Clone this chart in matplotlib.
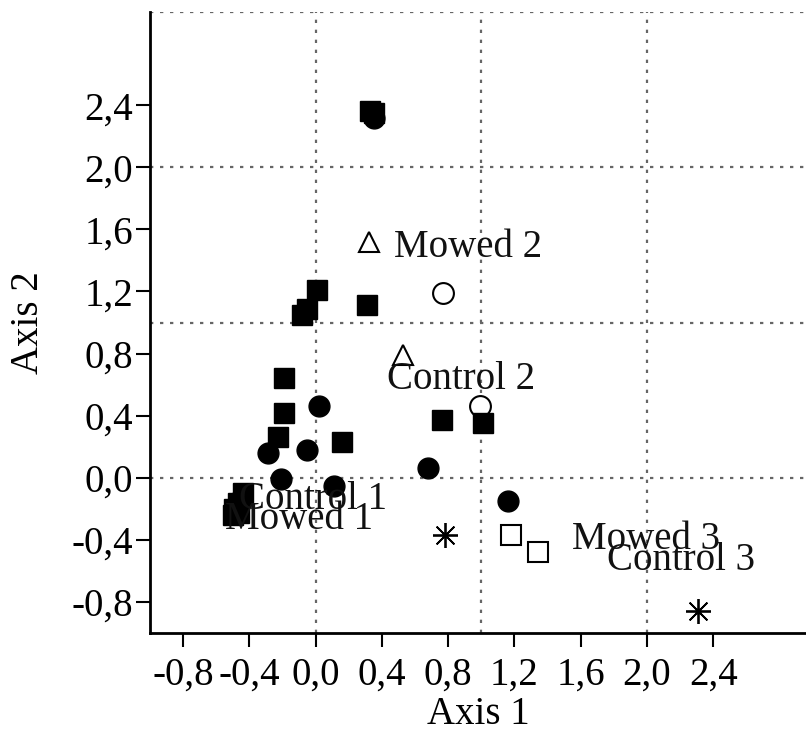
import matplotlib.pyplot as plt

plt.rcParams['font.family'] = ['Liberation Serif', 'DejaVu Serif']

# filled squares
sq_x = [0.35, 0.33, 0.01, -0.05, -0.08, 0.31, -0.19, -0.19, -0.23, 0.16, 0.76, 1.01,
        -0.44, -0.47, -0.49, -0.46, -0.50]
sq_y = [2.35, 2.36, 1.21, 1.09, 1.05, 1.11, 0.64, 0.42, 0.26, 0.23, 0.37, 0.35,
        -0.10, -0.16, -0.20, -0.23, -0.24]

# filled circles
ci_x = [0.35, 0.02, -0.05, -0.29, -0.21, 0.11, 0.68, 1.16, -0.45]
ci_y = [2.32, 0.46, 0.18, 0.16, -0.01, -0.05, 0.06, -0.15, -0.14]

# open markers
oc_x = [0.77, 0.99]
oc_y = [1.19, 0.46]
tri_x = [0.32, 0.53]
tri_y = [1.52, 0.79]
osq_x = [1.18, 1.34]
osq_y = [-0.37, -0.48]
ast_x = [0.78, 2.31]
ast_y = [-0.37, -0.86]

# group labels
lab_text = ["Mowed 2", "Control 2", "Control 1", "Mowed 1", "Mowed 3", "Control 3"]
lab_x = [0.47, 0.43, -0.46, -0.55, 1.55, 1.76]
lab_y = [1.48, 0.63, -0.14, -0.27, -0.40, -0.53]

ticks = [-0.8, -0.4, 0.0, 0.4, 0.8, 1.2, 1.6, 2.0, 2.4]
tick_labels = ["-0,8", "-0,4", "0,0", "0,4", "0,8", "1,2", "1,6", "2,0", "2,4"]

fig = plt.figure(figsize=(8.06, 7.35), dpi=100)
ax = fig.add_axes([150 / 806, 102 / 735, 656 / 806, 621 / 735])

# dotted grid at integer positions
for g in [0, 1, 2, 3]:
    ax.axvline(g, color='#666666', lw=1.6, ls=(0, (1.5, 3)), zorder=0)
    ax.axhline(g, color='#666666', lw=1.6, ls=(0, (1.5, 3)), zorder=0)

ax.plot(ci_x, ci_y, 'o', ms=15, color='black', ls='none', zorder=3)
ax.plot(sq_x, sq_y, 's', ms=15, color='black', ls='none', zorder=4)
ax.plot(oc_x, oc_y, 'o', ms=15, mfc='white', mec='black', mew=1.5, ls='none', zorder=2)
ax.plot(tri_x, tri_y, '^', ms=14, mfc='none', mec='black', mew=1.5, ls='none', zorder=2)
ax.plot(osq_x, osq_y, 's', ms=15, mfc='white', mec='black', mew=1.5, ls='none', zorder=2)
ax.plot(ast_x, ast_y, marker=(8, 2, 0), ms=18, color='black', mew=1.3, ls='none', zorder=2)

for t, x, y in zip(lab_text, lab_x, lab_y):
    ax.text(x, y, t, fontsize=28, ha='left', va='center', color='#111111', zorder=5)

ax.set_xlim(-1.0, 2.96)
ax.set_ylim(-1.0, 3.0)
ax.set_xticks(ticks)
ax.set_xticklabels(tick_labels)
ax.set_yticks(ticks)
ax.set_yticklabels(tick_labels)
ax.tick_params(direction='out', length=10, width=1.5, labelsize=28)
ax.tick_params(axis='x', pad=7)
ax.tick_params(axis='y', pad=2)

ax.spines['top'].set_visible(False)
ax.spines['right'].set_visible(False)
ax.spines['left'].set_linewidth(2)
ax.spines['bottom'].set_linewidth(2)

ax.set_xlabel("Axis 1", fontsize=28, labelpad=2)
ax.set_ylabel("Axis 2", fontsize=28, labelpad=18)

fig.savefig("out.png", dpi=100)
